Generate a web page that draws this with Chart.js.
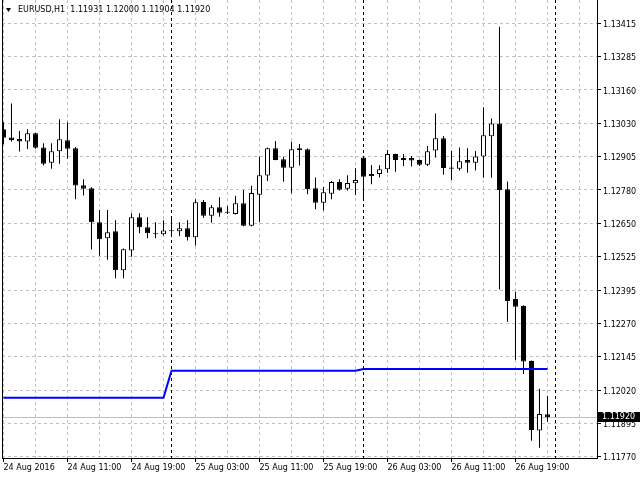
<!DOCTYPE html>
<html>
<head>
<meta charset="utf-8">
<script src="https://cdn.jsdelivr.net/npm/chart.js@4.4.1/dist/chart.umd.min.js"></script>
<style>
html,body{margin:0;padding:0;background:#ffffff;}
#wrap{width:640px;height:480px;position:relative;}
canvas{display:block;}
</style>
</head>
<body>
<div id="wrap"><canvas id="c" width="640" height="480"></canvas></div>
<script>
// ---- data ----
const symbol = 'EURUSD';
const period = 'H1';

const opens = [
1.13013,1.12982,1.12976,1.12966,1.12998,1.12944,1.12886,1.12929,1.12971,1.12941,
1.12800,1.12789,1.12660,1.12599,1.12626,1.12478,1.12553,1.12679,1.12641,1.12614,
1.12614,1.12626,1.12626,1.12637,1.12603,1.12737,1.12685,1.12717,1.12698,1.12691,
1.12732,1.12647,1.12764,1.12837,1.12941,1.12899,1.12867,1.12941,1.12937,1.12789,
1.12734,1.12768,1.12813,1.12787,1.12808,1.12906,1.12835,1.12843,1.12861,1.12919,
1.12904,1.12904,1.12896,1.12878,1.12932,1.12979,1.12868,1.12863,1.12896,1.12886,
1.12909,1.12986,1.13035,1.12785,1.12369,1.12342,1.12133,1.11869,1.11931];

const highs = [
1.13039,1.13111,1.13006,1.13013,1.13000,1.12960,1.12960,1.13051,1.13039,1.12945,
1.12823,1.12793,1.12706,1.12706,1.12667,1.12560,1.12694,1.12694,1.12679,1.12660,
1.12667,1.12675,1.12660,1.12667,1.12747,1.12744,1.12725,1.12755,1.12722,1.12760,
1.12782,1.12798,1.12908,1.12944,1.12968,1.12908,1.12965,1.12957,1.12940,1.12830,
1.12794,1.12816,1.12823,1.12838,1.12865,1.12908,1.12877,1.12876,1.12934,1.12920,
1.12919,1.12911,1.12898,1.12949,1.13073,1.12987,1.12930,1.12944,1.12941,1.12930,
1.13096,1.13054,1.13402,1.12815,1.12396,1.12345,1.12135,1.12028,1.12000];

const lows = [
1.12956,1.12966,1.12928,1.12938,1.12939,1.12875,1.12863,1.12882,1.12901,1.12747,
1.12761,1.12556,1.12533,1.12518,1.12447,1.12447,1.12529,1.12618,1.12599,1.12599,
1.12610,1.12610,1.12607,1.12591,1.12572,1.12677,1.12658,1.12681,1.12691,1.12689,
1.12645,1.12645,1.12662,1.12816,1.12895,1.12814,1.12770,1.12875,1.12766,1.12709,
1.12704,1.12747,1.12780,1.12780,1.12763,1.12749,1.12804,1.12830,1.12848,1.12852,
1.12873,1.12871,1.12873,1.12873,1.12906,1.12840,1.12820,1.12856,1.12848,1.12856,
1.12829,1.12829,1.12405,1.12282,1.12137,1.12084,1.11831,1.11804,1.11904];

const closes = [
1.12981,1.12972,1.12966,1.12998,1.12943,1.12882,1.12929,1.12975,1.12939,1.12799,
1.12787,1.12660,1.12595,1.12622,1.12478,1.12557,1.12679,1.12641,1.12618,1.12614,
1.12629,1.12626,1.12637,1.12603,1.12736,1.12685,1.12717,1.12696,1.12696,1.12732,
1.12647,1.12771,1.12838,1.12941,1.12896,1.12867,1.12937,1.12934,1.12786,1.12734,
1.12774,1.12813,1.12783,1.12809,1.12820,1.12833,1.12843,1.12861,1.12919,1.12896,
1.12896,1.12894,1.12878,1.12929,1.12979,1.12866,1.12863,1.12891,1.12886,1.12909,
1.12990,1.13035,1.12782,1.12361,1.12339,1.12131,1.11871,1.11932,1.11920];

// blue indicator line (one value per bar)
const indicator = [
1.11994,1.11994,1.11994,1.11994,1.11994,1.11994,1.11994,1.11994,1.11994,1.11994,
1.11994,1.11994,1.11994,1.11994,1.11994,1.11994,1.11994,1.11994,1.11994,1.11994,
1.11994,1.12096,1.12096,1.12096,1.12096,1.12096,1.12096,1.12096,1.12096,1.12096,
1.12096,1.12096,1.12096,1.12096,1.12096,1.12096,1.12096,1.12096,1.12096,1.12096,
1.12096,1.12096,1.12096,1.12096,1.12096,1.12103,1.12103,1.12103,1.12103,1.12103,
1.12103,1.12103,1.12103,1.12103,1.12103,1.12103,1.12103,1.12103,1.12103,1.12103,
1.12103,1.12103,1.12103,1.12103,1.12103,1.12103,1.12103,1.12103,1.12103];

const xTickLabels = ['24 Aug 2016','24 Aug 11:00','24 Aug 19:00','25 Aug 03:00','25 Aug 11:00',
                     '25 Aug 19:00','26 Aug 03:00','26 Aug 11:00','26 Aug 19:00'];
const xLabelBars = [0,8,16,24,32,40,48,56,64];
const xGridBars = [0,4,8,12,16,20,24,28,32,36,40,44,48,52,56,60,64,68,72];
const separatorBars = [21,45,69];
const yTickLabels = ['1.11770','1.11895','1.12020','1.12145','1.12270','1.12395','1.12525',
                     '1.12650','1.12780','1.12905','1.13030','1.13160','1.13285','1.13415'];

// ---- chart ----
const FONT = {family:'"DejaVu Sans", sans-serif', size:8};
Chart.defaults.font.family = FONT.family;
Chart.defaults.font.size = FONT.size;
Chart.defaults.color = '#000';

const yLo = parseFloat(yTickLabels[0]);
const yHi = parseFloat(yTickLabels[yTickLabels.length-1]);
const yStep = (yHi - yLo) / (yTickLabels.length - 1);
const yTickValues = yTickLabels.map((_, k) => yLo + k * yStep);
const last = closes.length - 1;

const mt4Plugin = {
  id: 'mt4',
  beforeDatasetsDraw(chart) {
    const {ctx, chartArea: a, scales: {x, y}} = chart;
    ctx.save();
    ctx.lineWidth = 1;
    // current price line
    const py = Math.round(y.getPixelForValue(closes[last]) - 0.5) + 0.5;
    ctx.strokeStyle = '#c0c0c0';
    ctx.beginPath(); ctx.moveTo(a.left, py); ctx.lineTo(a.right, py); ctx.stroke();
    // period separators
    ctx.strokeStyle = '#000';
    ctx.setLineDash([3, 3]);
    separatorBars.forEach(b => {
      const px = Math.floor(x.getPixelForValue(b)) + 0.5;
      ctx.beginPath(); ctx.moveTo(px, a.top); ctx.lineTo(px, a.bottom); ctx.stroke();
    });
    ctx.setLineDash([]);
    // left border
    ctx.beginPath(); ctx.moveTo(a.left + 0.5, a.top); ctx.lineTo(a.left + 0.5, a.bottom); ctx.stroke();
    ctx.restore();
  },
  afterDraw(chart) {
    const {ctx, chartArea: a, scales: {y}} = chart;
    ctx.save();
    // price label box
    const py = y.getPixelForValue(closes[last]);
    ctx.fillStyle = '#000';
    ctx.fillRect(a.right + 1, Math.round(py) - 5, 42, 10);
    ctx.fillStyle = '#fff';
    ctx.font = '8px ' + FONT.family;
    ctx.textBaseline = 'middle';
    ctx.textAlign = 'left';
    ctx.fillText(closes[last].toFixed(5), a.right + 5, Math.round(py));
    // title
    ctx.fillStyle = '#000';
    ctx.beginPath(); ctx.moveTo(6, 8); ctx.lineTo(11, 8); ctx.lineTo(8.5, 12); ctx.closePath(); ctx.fill();
    const t = symbol + ',' + period + '  ' + opens[last].toFixed(5) + ' ' + highs[last].toFixed(5) + ' ' +
              lows[last].toFixed(5) + ' ' + closes[last].toFixed(5);
    ctx.fillText(t, 18, 10);
    ctx.restore();
  }
};

new Chart(document.getElementById('c'), {
  type: 'bar',
  data: {
    datasets: [
      {
        type: 'line', label: 'indicator',
        data: indicator.map((v, i) => ({x: i, y: v})),
        borderColor: '#0000ff', borderWidth: 2, pointRadius: 0, fill: false, tension: 0, order: 0
      },
      {
        type: 'bar', label: 'body',
        data: opens.map((o, i) => ({x: i, y: [o, closes[i]]})),
        backgroundColor: ctx => (closes[ctx.dataIndex] > opens[ctx.dataIndex] ? '#ffffff' : '#000000'),
        borderColor: '#000', borderWidth: 1, borderSkipped: false,
        grouped: false, categoryPercentage: 1, barPercentage: 0.625, maxBarThickness: 5,
        minBarLength: 1, inflateAmount: 0, order: 1
      },
      {
        type: 'bar', label: 'wick',
        data: highs.map((h, i) => ({x: i, y: [lows[i], h]})),
        backgroundColor: '#000', borderWidth: 0,
        grouped: false, categoryPercentage: 1, barPercentage: 0.125, maxBarThickness: 1,
        inflateAmount: 0, order: 2
      }
    ]
  },
  options: {
    responsive: false,
    animation: false,
    devicePixelRatio: 1,
    events: [],
    layout: {padding: {left: 2, right: 0, top: 0, bottom: 0}},
    plugins: {legend: {display: false}, tooltip: {enabled: false}, title: {display: false}},
    scales: {
      x: {
        type: 'linear', position: 'bottom', min: -0.1875, max: 74.1875,
        offset: false,
        afterBuildTicks: s => { s.ticks = xGridBars.map(v => ({value: v})); },
        ticks: {
          autoSkip: false, maxRotation: 0, minRotation: 0, align: 'start', padding: 1,
          color: '#000', font: FONT,
          callback: v => { const k = xLabelBars.indexOf(v); return k >= 0 ? xTickLabels[k] : ''; }
        },
        grid: {
          offset: false, color: '#c0c0c0', lineWidth: 1, tickLength: 4, tickWidth: 1,
          tickColor: c => (c.tick && xLabelBars.includes(c.tick.value) ? '#000' : 'rgba(0,0,0,0)')
        },
        border: {display: true, color: '#000', width: 1, dash: [3, 3]},
        afterFit: s => { s.height = 22; s.paddingLeft = 0; s.paddingRight = 0; }
      },
      y: {
        type: 'linear', position: 'right', min: 1.117651, max: 1.135034, beginAtZero: false,
        afterBuildTicks: s => { s.ticks = yTickValues.map(v => ({value: v})); },
        ticks: {autoSkip: false, padding: 2, labelOffset: 1.5, color: '#000', font: FONT,
                callback: (v, i) => yTickLabels[i]},
        grid: {color: '#c0c0c0', lineWidth: 1, tickLength: 4, tickColor: '#000'},
        border: {display: true, color: '#000', width: 1, dash: [3, 3]},
        afterFit: s => { s.width = 43; s.paddingTop = 0; s.paddingBottom = 0; }
      }
    }
  },
  plugins: [mt4Plugin]
});
</script>
</body>
</html>
